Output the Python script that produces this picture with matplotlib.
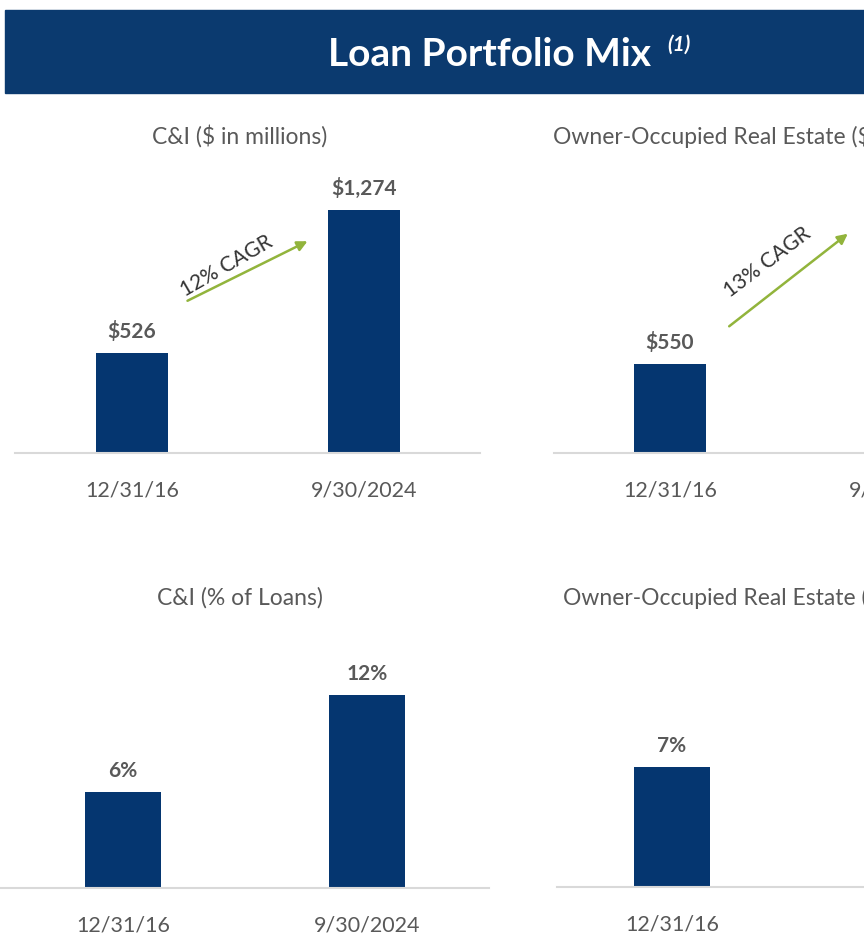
import matplotlib
matplotlib.use("Agg")
import matplotlib.pyplot as plt
from matplotlib.patches import Rectangle, FancyArrowPatch

W, H = 864, 934
NAVY = "#053670"
BANNER = "#0b3a6f"
GRAY = "#595959"
GREEN = "#92b43c"
LINE = "#d9d9d9"

plt.rcParams["font.family"] = ["Lato", "DejaVu Sans"]

dates = ["12/31/16", "9/30/2024"]
ci_dollars = [526, 1274]
oo_dollars = [550, 1380]
ci_pct = [6, 12]
oo_pct = [7, 11]
ci_dollar_labels = ["$526", "$1,274"]
oo_dollar_labels = ["$550", "$1,380"]
ci_pct_labels = ["6%", "12%"]
oo_pct_labels = ["7%", "11%"]


def fx(x):
    return x / W


def fy(y):
    return 1 - y / H


def panel(fig, c0, step, left, right, base, top, ymax, values, labels):
    ax = fig.add_axes([fx(left), fy(base), (right - left) / W, (base - top) / H])
    x = [0, 1]
    bars = ax.bar(x, values, width=0.31, color=NAVY)
    ax.bar_label(bars, labels=labels, padding=8, fontsize=15, fontweight="bold",
                 color=GRAY)
    ax.set_xlim((left - c0) / step, (right - c0) / step)
    ax.set_ylim(0, ymax)
    ax.set_yticks([])
    ax.set_xticks(x, dates)
    ax.tick_params(axis="x", length=0, pad=20, labelsize=15.5, labelcolor=GRAY)
    for s in ("top", "left", "right"):
        ax.spines[s].set_visible(False)
    ax.spines["bottom"].set_color(LINE)
    ax.spines["bottom"].set_linewidth(1.5)
    ax.patch.set_alpha(0)
    return ax


fig = plt.figure(figsize=(W / 100, H / 100), dpi=100)

# banner
fig.patches.append(Rectangle((fx(5), fy(93)), (W - 5) / W, 83 / H,
                             transform=fig.transFigure, color=BANNER, zorder=0))
fig.text(fx(489), fy(55), "Loan Portfolio Mix", color="white", fontsize=28,
         fontweight="bold", ha="center", va="center")
fig.text(fx(667), fy(45), "(1)", color="white", fontsize=15, fontweight="bold",
         fontstyle="italic", ha="left", va="center")

# panel titles
fig.text(fx(240), fy(136), "C&I ($ in millions)", color=GRAY, fontsize=16.5,
         ha="center", va="center")
fig.text(fx(553), fy(136), "Owner-Occupied Real Estate ($ in millions)", color=GRAY,
         fontsize=16.5, ha="left", va="center")
fig.text(fx(240), fy(598), "C&I (% of Loans)", color=GRAY, fontsize=16.5,
         ha="center", va="center")
fig.text(fx(563), fy(598), "Owner-Occupied Real Estate (% of Loans)", color=GRAY,
         fontsize=16.5, ha="left", va="center")

panel(fig, 132, 232, 15, 480, 453, 160, 1536, ci_dollars, ci_dollar_labels)
panel(fig, 670, 232, 554, 1018, 453, 160, 1809, oo_dollars, oo_dollar_labels)
panel(fig, 123, 244, 0, 489, 888, 630, 16.07, ci_pct, ci_pct_labels)
panel(fig, 672, 244, 557, 1038, 887, 630, 15.0, oo_pct, oo_pct_labels)

# CAGR arrows
for (x0, y0, x1, y1, tx, ty, rot, txt) in [
    (185, 302, 310, 240, 226, 266, 30, "12% CAGR"),
    (727, 328, 850, 232, 767, 262, 37, "13% CAGR"),
]:
    fig.add_artist(FancyArrowPatch(
        (fx(x0), fy(y0)), (fx(x1), fy(y1)), transform=fig.transFigure,
        arrowstyle="-|>", mutation_scale=15, color=GREEN, lw=1.8))
    fig.text(fx(tx), fy(ty), txt, color="#333333", fontsize=15, rotation=rot,
             ha="center", va="center", rotation_mode="anchor")

fig.savefig("out.png", dpi=100)
